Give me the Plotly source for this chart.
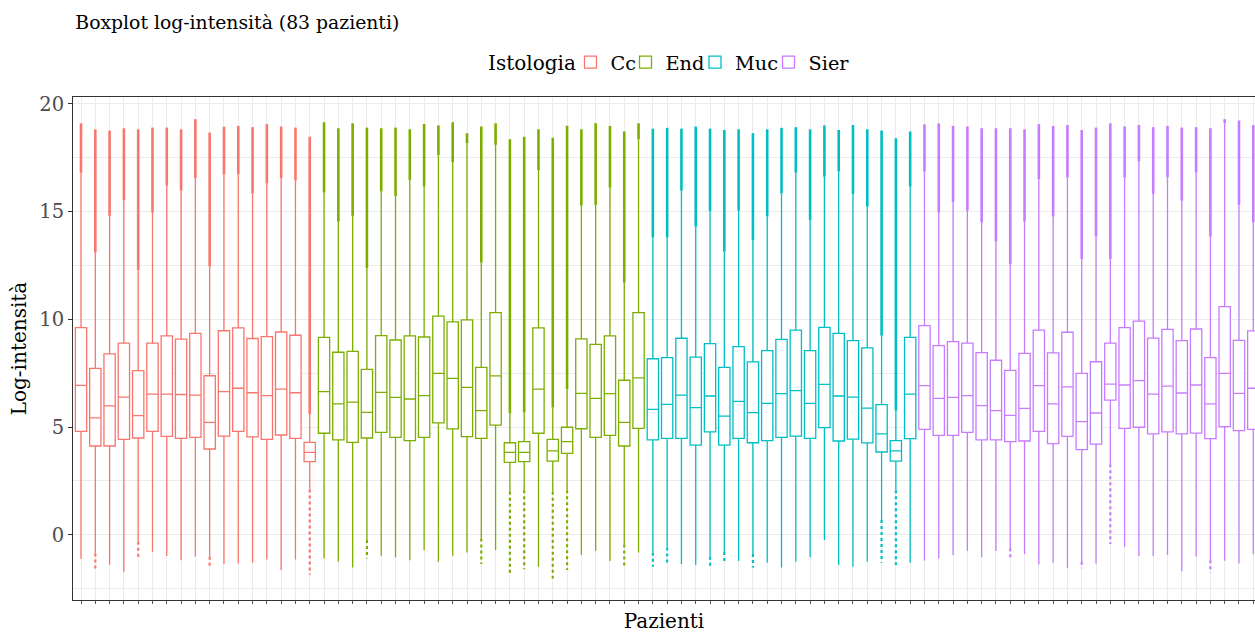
import plotly.graph_objects as go

# ---------------- data ----------------
pazienti = list(range(1, 84))

istologia = (["Cc"] * 17) + (["End"] * 23) + (["Muc"] * 19) + (["Sier"] * 24)

q1 = [4.80, 4.12, 4.12, 4.43, 4.49, 4.80, 4.57, 4.47, 4.52, 3.98, 4.58, 4.80, 4.54, 4.43, 4.63, 4.47, 3.39,
      4.71, 4.40, 4.29, 4.49, 4.75, 4.52, 4.37, 4.52, 5.19, 4.91, 4.55, 4.47, 5.09, 3.36, 3.39, 4.71, 3.42, 3.78, 4.92, 4.52, 4.61, 4.12, 4.94,
      4.40, 4.47, 4.47, 4.16, 4.77, 4.16, 4.47, 4.27, 4.37, 4.52, 4.58, 4.47, 4.97, 4.35, 4.44, 4.26, 3.84, 3.42, 4.46,
      4.89, 4.61, 4.61, 4.75, 4.40, 4.40, 4.32, 4.35, 4.80, 4.23, 4.57, 3.95, 4.21, 6.25, 4.94, 4.99, 4.68, 4.77, 4.68, 4.72, 4.46, 5.02, 4.83, 4.89]

mediana = [6.93, 5.42, 5.98, 6.39, 5.53, 6.53, 6.53, 6.51, 6.48, 5.22, 6.64, 6.80, 6.59, 6.46, 6.76, 6.59, 3.82,
           6.64, 6.07, 6.16, 5.68, 6.61, 6.38, 6.30, 6.46, 7.49, 7.26, 6.84, 5.76, 7.37, 3.82, 3.82, 6.76, 3.89, 4.32, 6.56, 6.33, 6.55, 5.22, 7.28,
           5.82, 6.05, 6.48, 5.90, 6.44, 5.51, 6.19, 5.67, 6.10, 6.55, 6.69, 6.10, 6.98, 6.44, 6.39, 5.88, 4.68, 3.89, 6.53,
           6.92, 6.33, 6.38, 6.46, 5.99, 5.76, 5.54, 5.87, 6.92, 6.07, 6.86, 5.25, 5.65, 6.99, 6.95, 7.15, 6.53, 6.90, 6.58, 6.95, 6.07, 7.49, 6.56, 6.80]

q3 = [9.61, 7.72, 8.40, 8.89, 7.62, 8.89, 9.23, 9.08, 9.35, 7.38, 9.47, 9.60, 9.11, 9.20, 9.41, 9.26, 4.29,
      9.16, 8.47, 8.51, 7.68, 9.24, 9.04, 9.23, 9.18, 10.15, 9.88, 9.97, 7.77, 10.31, 4.27, 4.32, 9.60, 4.43, 4.99, 9.09, 8.84, 9.23, 7.17, 10.31,
      8.17, 8.22, 9.12, 8.24, 8.87, 7.77, 8.73, 8.02, 8.55, 9.07, 9.50, 8.55, 9.63, 9.35, 9.01, 8.67, 6.04, 4.37, 9.16,
      9.71, 8.78, 8.96, 8.89, 8.45, 8.10, 7.63, 8.42, 9.50, 8.44, 9.40, 7.49, 8.03, 8.89, 9.61, 9.92, 9.13, 9.53, 9.01, 9.55, 8.22, 10.59, 9.02, 9.46]

baffo_inf = [-1.13, -0.87, -1.39, -1.72, -0.33, -0.79, -0.99, -1.18, -1.02, -1.02, -1.36, -1.33, -1.30, -1.15, -1.64, -1.15, 2.10,
             -1.10, -1.25, -1.52, -0.25, -0.98, -1.05, -1.18, -0.71, -1.25, -0.98, -0.82, -0.17, -0.71, 2.00, 2.07, -1.49, 2.00, 2.07, -0.94, -0.74, -1.22, -0.45, -0.82,
             -0.84, -0.59, -1.36, -1.41, -1.02, -0.80, -1.22, -0.90, -1.30, -1.52, -1.25, -1.05, -0.25, -1.41, -1.49, -1.25, 0.68, 2.07, -1.30,
             -1.21, -1.10, -0.94, -0.76, -1.05, -0.76, -0.63, -0.90, -1.38, -1.30, -1.53, -1.25, -1.33, 3.27, -0.56, -0.99, -0.99, -0.94, -1.69, -1.02, -1.18, -1.21, -1.33, -0.91]

baffo_sup = [16.80, 13.10, 14.80, 15.54, 12.29, 14.95, 16.20, 15.97, 16.55, 12.45, 16.73, 16.73, 15.85, 16.30, 16.55, 16.44, 5.60,
             15.88, 14.53, 14.80, 12.37, 15.93, 15.73, 16.47, 16.16, 17.63, 17.28, 18.17, 12.63, 18.10, 5.63, 5.67, 16.93, 5.91, 6.75, 15.28, 15.31, 16.11, 11.70, 18.36,
             13.79, 13.79, 15.97, 14.30, 15.03, 13.14, 15.04, 13.68, 14.77, 15.85, 16.81, 14.61, 16.62, 16.86, 15.82, 15.23, 9.24, 5.76, 16.16,
             16.86, 14.95, 15.43, 15.04, 14.49, 13.61, 12.57, 14.53, 16.50, 14.77, 16.59, 12.80, 13.84, 12.80, 16.58, 17.32, 15.82, 16.59, 15.50, 16.81, 13.84, 19.10, 15.31, 14.50]

minimo = [-1.13, -1.60, -1.39, -1.72, -1.02, -0.79, -0.99, -1.18, -1.02, -1.53, -1.36, -1.33, -1.30, -1.15, -1.64, -1.15, -1.85,
          -1.10, -1.25, -1.52, -1.10, -0.98, -1.05, -1.18, -0.71, -1.25, -0.98, -0.82, -1.36, -0.71, -1.80, -1.60, -1.49, -2.03, -1.64, -0.94, -0.74, -1.22, -1.49, -0.82,
          -1.49, -1.38, -1.36, -1.41, -1.49, -1.36, -1.22, -1.52, -1.30, -1.52, -1.25, -1.05, -0.25, -1.41, -1.49, -1.25, -1.30, -1.41, -1.30,
          -1.21, -1.10, -0.94, -0.76, -1.05, -0.76, -1.18, -0.90, -1.38, -1.30, -1.53, -1.56, -1.33, -0.43, -0.56, -0.99, -0.99, -0.94, -1.69, -1.02, -1.75, -1.21, -1.33, -0.91]

massimo = [19.10, 18.82, 18.76, 18.87, 18.82, 18.90, 18.90, 18.82, 19.29, 18.67, 18.94, 18.98, 18.92, 19.06, 18.95, 18.90, 18.48,
           19.15, 18.87, 19.10, 18.90, 18.87, 18.90, 18.82, 19.07, 19.00, 19.15, 18.64, 18.95, 19.10, 18.36, 18.48, 18.82, 18.43, 18.98, 18.82, 19.10, 18.98, 18.72, 19.10,
           18.85, 18.89, 18.85, 18.95, 18.85, 18.79, 18.82, 18.64, 18.82, 18.89, 18.92, 18.82, 19.00, 18.79, 19.02, 18.82, 18.76, 18.41, 18.72,
           19.05, 19.10, 18.98, 18.95, 18.87, 18.87, 18.87, 18.82, 19.06, 18.98, 19.02, 18.79, 18.90, 19.10, 18.95, 19.02, 18.92, 18.98, 18.90, 18.92, 18.87, 19.29, 19.23, 19.02]

gruppi = ["Cc", "End", "Muc", "Sier"]
colori = ["#F8766D", "#7CAE00", "#00BFC4", "#C77CFF"]

# ---------------- layout constants ----------------
FONT = "DejaVu Serif"
W, H = 1255, 633
ML, MT, MB = 73, 97, 33
plot_h = H - MT - MB
plot_w = W - ML


def px_x(px):
    return (px - ML) / plot_w


def px_y(py):
    return (H - MB - py) / plot_h


legend_ids = ["legend", "legend2", "legend3", "legend4"]
legend_left_px = [570.5, 625.5, 695.0, 768.5]
LEG_Y = 62.5

fig = go.Figure()

for g, col, lid in zip(gruppi, colori, legend_ids):
    idx = [i for i in range(len(pazienti)) if istologia[i] == g]
    xs = [pazienti[i] for i in idx]
    ux, uy, lx, ly = [], [], [], []
    for i in idx:
        if massimo[i] > baffo_sup[i]:
            ux += [pazienti[i], pazienti[i], None]
            uy += [baffo_sup[i], massimo[i], None]
        if minimo[i] < baffo_inf[i]:
            lx += [pazienti[i], pazienti[i], None]
            ly += [baffo_inf[i], minimo[i], None]
    fig.add_trace(go.Scatter(x=ux, y=uy, mode="lines", line=dict(color=col, width=2.6),
                             showlegend=False, hoverinfo="skip", legendgroup=g))
    fig.add_trace(go.Scatter(x=lx, y=ly, mode="lines", line=dict(color=col, width=2.2, dash="dot"),
                             showlegend=False, hoverinfo="skip", legendgroup=g))
    fig.add_trace(go.Box(
        x=xs,
        q1=[q1[i] for i in idx],
        median=[mediana[i] for i in idx],
        q3=[q3[i] for i in idx],
        lowerfence=[baffo_inf[i] for i in idx],
        upperfence=[baffo_sup[i] for i in idx],
        name=g, legendgroup=g, legend=lid,
        line=dict(color=col, width=1.3),
        fillcolor="white",
        whiskerwidth=0,
        width=0.79,
        boxpoints=False,
    ))

legend_common = dict(orientation="h", xanchor="left", yanchor="middle", y=px_y(LEG_Y),
                     font=dict(family=FONT, size=19.3, color="black"), itemwidth=30,
                     bgcolor="rgba(0,0,0,0)", borderwidth=0)

fig.update_layout(
    width=W, height=H,
    margin=dict(l=ML, r=0, t=MT, b=MB, pad=0),
    paper_bgcolor="white", plot_bgcolor="white",
    boxmode="overlay",
    font=dict(family=FONT, size=19, color="black"),
    title=dict(text="Boxplot log-intensità (83 pazienti)", x=0.002, xref="paper", xanchor="left",
               y=1 - 22 / H, yref="container", yanchor="middle",
               font=dict(family=FONT, size=18.8, color="black")),
    showlegend=True,
    annotations=[dict(text="Istologia", xref="paper", yref="paper", x=px_x(485.5), y=px_y(LEG_Y),
                      xanchor="left", yanchor="middle", showarrow=False,
                      font=dict(family=FONT, size=20, color="black"))],
)
for lid, lpx in zip(legend_ids, legend_left_px):
    fig.update_layout({lid: dict(legend_common, x=px_x(lpx))})

fig.update_xaxes(
    range=[0.44, 0.44 + plot_w / 14.296],
    tickmode="linear", tick0=1, dtick=1,
    showticklabels=False,
    ticks="outside", ticklen=3, tickcolor="#555555", tickwidth=1,
    showgrid=True, gridcolor="#EBEBEB", gridwidth=1.4,
    showline=True, linecolor="#333333", linewidth=1, mirror=True,
    zeroline=False,
    title=dict(text="Pazienti", font=dict(family=FONT, size=20, color="black"), standoff=10),
)
fig.update_yaxes(
    range=[-3.03, 20.32],
    tickmode="array", tickvals=[0, 5, 10, 15, 20], ticktext=["0", "5", "10", "15", "20"],
    ticks="outside", ticklen=4, tickcolor="#333333", tickwidth=1,
    tickfont=dict(family=FONT, size=19.5, color="#4D4D4D"),
    showgrid=True, gridcolor="#EBEBEB", gridwidth=1.4,
    minor=dict(tickmode="array", tickvals=[-2.5, 2.5, 7.5, 12.5, 17.5], showgrid=True,
               gridcolor="#EBEBEB", gridwidth=0.7, ticks=""),
    showline=True, linecolor="#333333", linewidth=1, mirror=False,
    zeroline=False,
    title=dict(text="Log-intensità", font=dict(family=FONT, size=20, color="black"), standoff=7),
)

fig.write_html("out.html")
